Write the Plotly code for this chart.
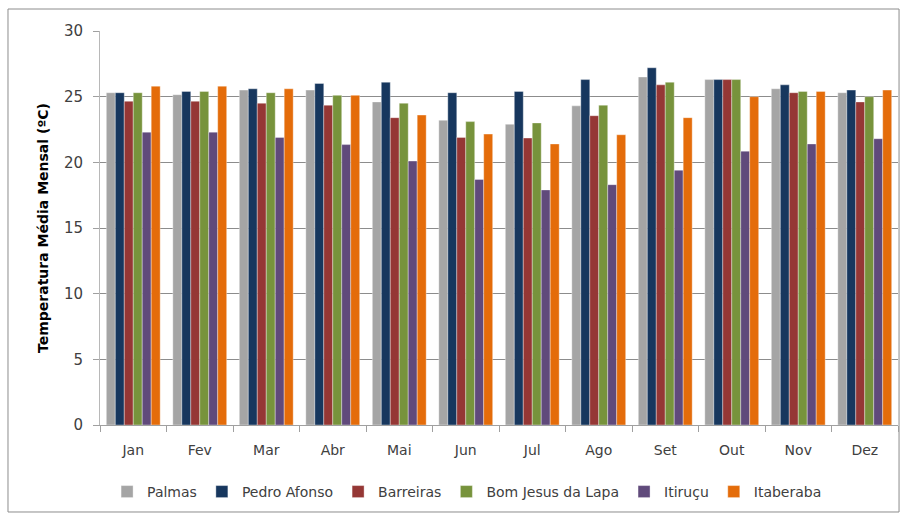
import plotly.graph_objects as go

months = ["Jan", "Fev", "Mar", "Abr", "Mai", "Jun", "Jul", "Ago", "Set", "Out", "Nov", "Dez"]

palmas = [25.3, 25.15, 25.5, 25.5, 24.6, 23.2, 22.9, 24.3, 26.5, 26.3, 25.6, 25.3]
pedro_afonso = [25.3, 25.4, 25.6, 26.0, 26.1, 25.3, 25.4, 26.3, 27.2, 26.3, 25.9, 25.5]
barreiras = [24.65, 24.65, 24.5, 24.35, 23.4, 21.9, 21.85, 23.55, 25.9, 26.3, 25.3, 24.6]
bom_jesus_da_lapa = [25.3, 25.4, 25.3, 25.1, 24.5, 23.1, 23.0, 24.35, 26.1, 26.3, 25.4, 25.0]
itirucu = [22.3, 22.3, 21.9, 21.35, 20.1, 18.7, 17.9, 18.3, 19.4, 20.85, 21.4, 21.8]
itaberaba = [25.8, 25.8, 25.6, 25.1, 23.6, 22.15, 21.4, 22.1, 23.4, 25.0, 25.4, 25.5]

series = [
    ("Palmas", palmas, "#A5A5A5"),
    ("Pedro Afonso", pedro_afonso, "#17375E"),
    ("Barreiras", barreiras, "#953735"),
    ("Bom Jesus da Lapa", bom_jesus_da_lapa, "#77933C"),
    ("Itiruçu", itirucu, "#604A7B"),
    ("Itaberaba", itaberaba, "#E46C0A"),
]

FONT = "DejaVu Sans"

fig = go.Figure()
for name, vals, color in series:
    fig.add_trace(go.Bar(
        x=months, y=vals, name=name,
        marker=dict(color=color, line=dict(color="rgba(255,255,255,0.6)", width=0.6)),
    ))

fig.update_layout(
    width=901, height=516,
    margin=dict(l=100, r=3, t=31, b=91),
    paper_bgcolor="white", plot_bgcolor="white",
    barmode="group", bargap=0.19, bargroupgap=0,
    font=dict(family=FONT, color="#404040", size=13),
    showlegend=True,
    legend=dict(
        orientation="h", x=0.46, xanchor="center", y=-0.17, yanchor="middle",
        font=dict(family=FONT, size=14, color="#404040"),
        itemwidth=30, tracegroupgap=0,
    ),
    xaxis=dict(
        type="category", showgrid=False,
        showline=True, linecolor="#A0A0A0", linewidth=1,
        ticks="outside", tickson="boundaries", ticklen=6, tickcolor="#A0A0A0",
        tickfont=dict(family=FONT, size=14, color="#404040"),
        ticklabelstandoff=12,
    ),
    yaxis=dict(
        range=[0, 30], dtick=5,
        showgrid=True, gridcolor="#8C8C8C", gridwidth=1,
        showline=True, linecolor="#B8B8B8", linewidth=1,
        ticks="outside", ticklen=6, tickcolor="#A0A0A0",
        tickfont=dict(family=FONT, size=15, color="#404040"),
        ticklabelstandoff=7,
        zeroline=False,
        title=dict(text="<b>Temperatura Média Mensal (ºC)</b>",
                   font=dict(family=FONT, size=14, color="black"), standoff=12),
    ),
    shapes=[dict(
        type="rect", xref="paper", yref="paper",
        x0=-0.1153, x1=1.0013, y0=-0.2208, y1=1.0558,
        line=dict(color="#8C8C8C", width=1), fillcolor="rgba(0,0,0,0)", layer="below",
    )],
)

fig.write_html("out.html")
